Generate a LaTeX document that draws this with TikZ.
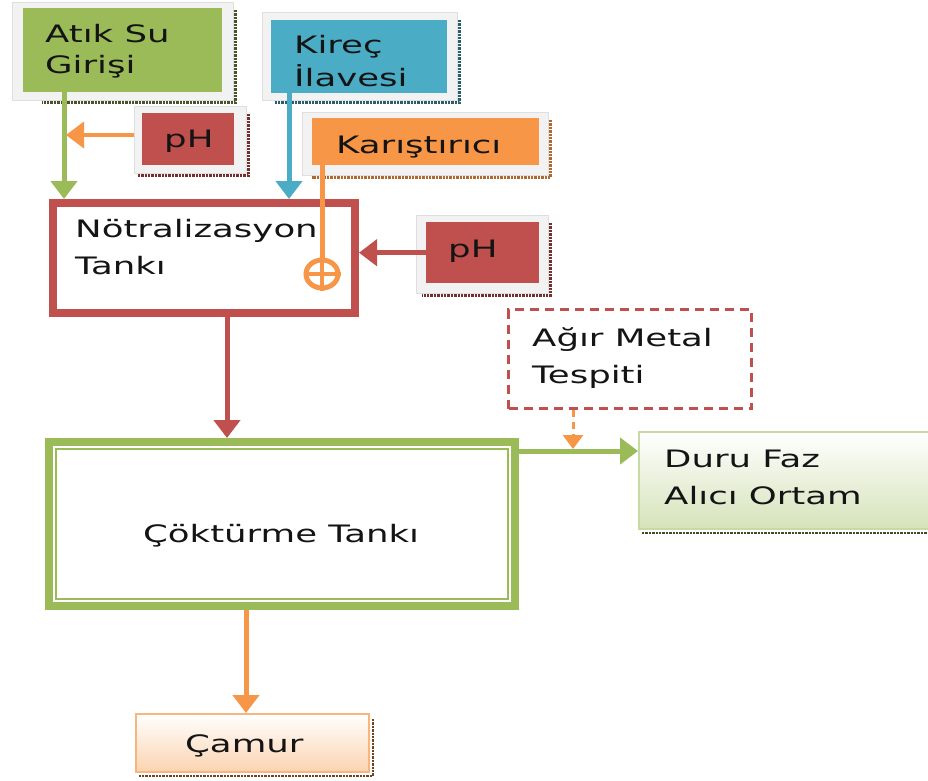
\documentclass[tikz,border=0pt]{standalone}
\usepackage{fontspec}
\usetikzlibrary{arrows.meta,shapes.geometric,calc}
\newfontfamily\vsans[FakeStretch=1.48]{DejaVu Sans}
\definecolor{cgreen}{HTML}{9BBB59}
\definecolor{cblue}{HTML}{4BACC6}
\definecolor{cred}{HTML}{C0504D}
\definecolor{corange}{HTML}{F79646}
\definecolor{framegray}{HTML}{F2F2F2}
\definecolor{ink}{HTML}{141414}
\definecolor{paleGreen}{HTML}{D5E3BA}
\definecolor{paleOrange}{HTML}{FBD3B0}
\tikzset{
  frame/.style={fill=framegray, draw=framegray!92!black, line width=0.6, inner sep=0, anchor=north west},
  colbox/.style={inner sep=0, anchor=north west},
  txt/.style={anchor=base west, inner sep=0, align=left, text=ink,
    font=\vsans\fontsize{24}{37}\selectfont},
  shade line/.style={line width=2.4, densely dotted},
  flow/.style={line width=5, -{Triangle[width=26pt,length=18pt]}},
}
\begin{document}
\begin{tikzpicture}[x=1pt,y=-1pt]
\clip (0,0) rectangle (928,780);
\fill[white] (0,0) rectangle (928,780);

% --- Atik Su Girisi
\node[frame, minimum width=221, minimum height=98] (atikF) at (12,2) {};
\draw[shade line, cgreen!45!black] ([shift={(2,8)}]atikF.north east) -- ([shift={(2,2)}]atikF.south east) -- ([shift={(30,2)}]atikF.south west);
\node[colbox, fill=cgreen, minimum width=199, minimum height=84] (atik) at (23,8) {};
\node[txt, font=\vsans\fontsize{24}{31}\selectfont] (atikT) at (45,73) {Atık Su\\Girişi};

% --- Kirec Ilavesi
\node[frame, minimum width=195, minimum height=88] (kirF) at (262,12) {};
\draw[shade line, cblue!55!black] ([shift={(2,8)}]kirF.north east) -- ([shift={(2,2)}]kirF.south east) -- ([shift={(12,2)}]kirF.south west);
\node[colbox, fill=cblue, minimum width=176, minimum height=73] (kir) at (271,20) {};
\node[txt, font=\vsans\fontsize{24}{33}\selectfont] (kirT) at (294,86) {Kireç\\İlavesi};

% --- pH (upper)
\node[frame, minimum width=112, minimum height=67] (ph1F) at (134,106) {};
\draw[shade line, cred!60!black] ([shift={(2,8)}]ph1F.north east) -- ([shift={(2,2)}]ph1F.south east) -- ([shift={(4,2)}]ph1F.south west);
\node[colbox, fill=cred, minimum width=92, minimum height=52] (ph1) at (142,113) {};
\node[txt] (ph1T) at (164,147) {pH};

% --- Karistirici
\node[frame, minimum width=246, minimum height=63] (karF) at (302,112) {};
\draw[shade line, corange!70!black] ([shift={(2,8)}]karF.north east) -- ([shift={(2,2)}]karF.south east) -- ([shift={(10,2)}]karF.south west);
\node[colbox, fill=corange, minimum width=227, minimum height=47] (kar) at (312,118) {};
\node[txt] (karT) at (336,153) {Karıştırıcı};

% --- pH (right)
\node[frame, minimum width=132, minimum height=78] (ph2F) at (416,215) {};
\draw[shade line, cred!60!black] ([shift={(2,8)}]ph2F.north east) -- ([shift={(2,2)}]ph2F.south east) -- ([shift={(6,2)}]ph2F.south west);
\node[colbox, fill=cred, minimum width=113, minimum height=61] (ph2) at (426,222) {};
\node[txt] (ph2T) at (448,257) {pH};

% --- Notralizasyon Tanki
\node[colbox, draw=cred, line width=8, minimum width=302, minimum height=110] (nt) at (49,199) {};
\node[txt] (ntT) at (75,274) {Nötralizasyon\\Tankı};

% --- mixer
\node[ellipse, draw=corange, line width=5, inner sep=0, minimum width=32, minimum height=28] (mix) at (322,274) {};
\draw[corange, line width=4.5] (mix.north) -- (mix.south) (mix.west) -- (mix.east);
\draw[corange, line width=5] (kar.south -| mix.north) -- (mix.north);

% --- Agir Metal Tespiti
\node[colbox, draw=cred, line width=3, dash pattern=on 9pt off 6pt, minimum width=243, minimum height=99] (am) at (507,308) {};
\node[txt] (amT) at (532,383) {Ağır Metal\\Tespiti};

% --- Cokturme Tanki (double border)
\node[colbox, draw=cgreen, line width=8, minimum width=466, minimum height=164] (ct) at (45,438) {};
\draw[cgreen, line width=2] ([shift={(11,11)}]ct.north west) rectangle ([shift={(-11,-11)}]ct.south east);
\node[txt] (ctT) at (143,542) {Çöktürme Tankı};

% --- Duru Faz Alici Ortam
\node[colbox, top color=white, bottom color=paleGreen, draw=cgreen!55, line width=2, minimum width=320, minimum height=97] (df) at (638,431) {};
\draw[shade line, cgreen!40!black] ([shift={(4,3)}]df.south west) -- ([shift={(0,3)}]df.south east);
\node[txt] (dfT) at (664,504) {Duru Faz\\Alıcı Ortam};

% --- Camur
\node[colbox, top color=white, bottom color=paleOrange, draw=corange!70, line width=2, minimum width=233, minimum height=58] (cm) at (135,713) {};
\draw[shade line, corange!45!black] ([shift={(3,6)}]cm.north east) -- ([shift={(3,3)}]cm.south east) -- ([shift={(4,3)}]cm.south west);
\node[txt] (cmT) at (185,752) {Çamur};

% --- connectors
\coordinate (phTip) at (66,135);
\draw[flow, cgreen] ([xshift=41]atik.south west) -- ([xshift=15]nt.north west);
\draw[flow, corange, line width=4] (ph1F.west |- phTip) -- (phTip);
\draw[flow, cblue] ([xshift=18]kir.south west) -- (nt.north -| 289,0);
\draw[flow, cred] (ph2.west) -- (nt.east |- ph2.west);
\draw[flow, cred] (nt.south -| 227,0) -- (ct.north -| 227,0);
\draw[flow, cgreen] (ct.east |- 0,451) -- (df.west |- 0,451);
\draw[corange, line width=3, dash pattern=on 7pt off 5pt, -{Triangle[width=20pt,length=14pt]}] (am.south -| 573,0) -- (573,449);
\draw[flow, corange] (ct.south -| 246,0) -- (cm.north -| 246,0);
\end{tikzpicture}
\end{document}
